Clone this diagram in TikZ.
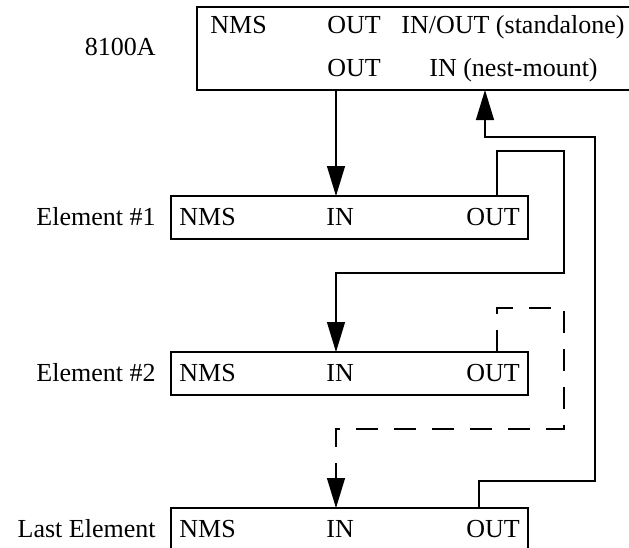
\documentclass[tikz,border=0pt]{standalone}
\usepackage{fontspec}
\setmainfont{Liberation Serif}
\usetikzlibrary{arrows.meta}

\begin{document}
\begin{tikzpicture}[
  x=0.5pt, y=-0.5pt,
  >={Triangle[length=15pt,width=9pt]},
  font=\fontsize{13}{15}\selectfont,
  unit/.style={draw,line width=0.6pt,inner sep=0pt,outer sep=0pt},
  hubbox/.style={unit,minimum width=217.5pt,minimum height=41.5pt},
  elbox/.style={unit,minimum width=178.5pt,minimum height=21.5pt},
  port/.style={anchor=base west,inner sep=0pt},
  tag/.style={anchor=base east,inner sep=0pt},
  link/.style={line width=0.6pt},
  arr/.style={link,->},
  spare/.style={arr,dash pattern=on 11pt off 8pt}
]
\useasboundingbox (0,0) rectangle (629,548);
% boxes
\node[hubbox] (hub) at (414.5,48.5) {};
\node[elbox] (e1) at (349.5,217.5) {};
\node[elbox] (e2) at (349.5,373.5) {};
\node[elbox] (last) at (349.5,529.5) {};
% side labels
\node[tag] (hubtag) at (156,55) {8100A};
\node[tag] (e1tag) at (156,225) {Element \#1};
\node[tag] (e2tag) at (156,381) {Element \#2};
\node[tag] (lasttag) at (156,537) {Last Element};
% port labels
\node[port] (hubnms) at (210,33) {NMS};
\node[port] (hubout) at (327,33) {OUT};
\node[port] (hubio) at (401,33) {IN/OUT (standalone)};
\node[port] (hubout2) at (327,76) {OUT};
\node[port] (hubin) at (429,76) {IN (nest-mount)};
\node[port] (e1nms) at (179,225) {NMS};
\node[port] (e1in) at (326,225) {IN};
\node[port] (e1out) at (466,225) {OUT};
\node[port] (e2nms) at (179,381) {NMS};
\node[port] (e2in) at (326,381) {IN};
\node[port] (e2out) at (466,381) {OUT};
\node[port] (lastnms) at (179,537) {NMS};
\node[port] (lastin) at (326,537) {IN};
\node[port] (lastout) at (466,537) {OUT};
% bends
\coordinate (inx) at (336,0);
\coordinate (c1a) at (497,151);
\coordinate (c1b) at (564,273);
\coordinate (c1c) at (336,273);
\coordinate (c2a) at (497,308);
\coordinate (c2b) at (564,429);
\coordinate (c2c) at (336,429);
\coordinate (c3a) at (479,481);
\coordinate (c3b) at (595,137);
\coordinate (c3c) at (485,137);
% connectors
\draw[arr] (hub.south -| inx) -- (e1.north -| inx);
\draw[arr] (e1.north -| c1a) -- (c1a) -| (c1b) -- (c1c) -- (e2.north -| c1c);
\draw[spare] (e2.north -| c2a) -- (c2a) -| (c2b) -- (c2c) -- (last.north -| c2c);
\draw[arr] (last.north -| c3a) -- (c3a) -| (c3b) -- (c3c) -- (hub.south -| c3c);
\end{tikzpicture}
\end{document}
